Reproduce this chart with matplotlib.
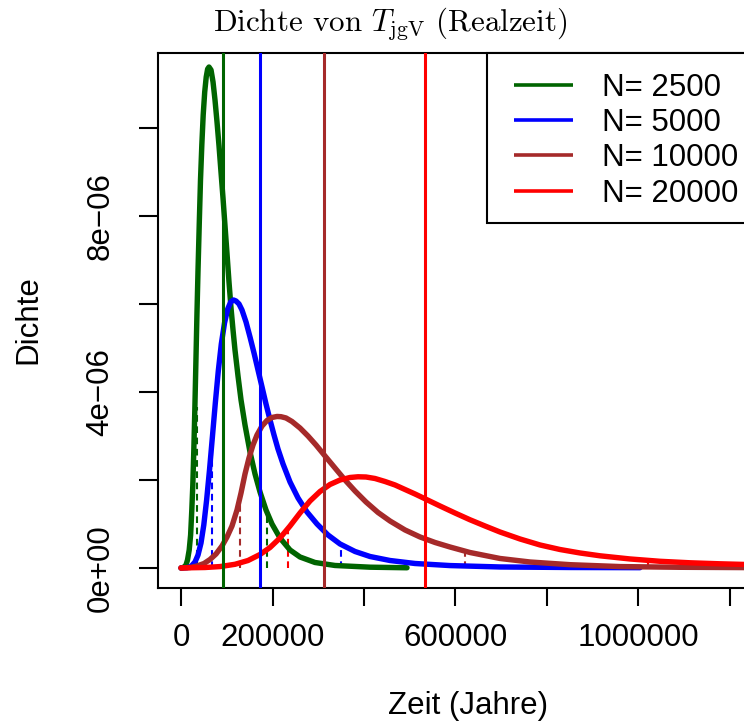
import numpy as np
import matplotlib
matplotlib.use("Agg")
import matplotlib.pyplot as plt
from matplotlib.lines import Line2D
from matplotlib.patches import Rectangle

plt.rcParams['font.family'] = ['Liberation Sans', 'DejaVu Sans']
plt.rcParams['mathtext.fontset'] = 'cm'

# Dichtekurven: Zeit in Jahren, Dichte in Einheiten von 1e-6
t_2500 = [0, 5500, 10900, 14200, 17900, 21000, 23600, 25800, 28000, 30200, 32400,
          34800, 37200, 40000, 42600, 45500, 48500, 51800, 55100, 58200, 61200,
          65600, 70000, 74300, 78700, 83100, 87400, 91800, 96200, 100600, 104900,
          109300, 113700, 118000, 124600, 131200, 139900, 150800, 161800, 172700,
          185800, 198900, 216400, 238300, 260100, 292900, 336600, 413200, 494000]
d_2500 = [0, 0.011, 0.068, 0.182, 0.409, 0.750, 1.318, 1.887, 2.682, 3.591, 4.614,
          5.751, 6.774, 7.865, 8.820, 9.616, 10.297, 10.819, 11.160, 11.342, 11.387,
          11.320, 11.047, 10.638, 10.138, 9.592, 9.001, 8.410, 7.774, 7.137, 6.501,
          5.910, 5.410, 4.955, 4.364, 3.819, 3.250, 2.637, 2.137, 1.727,
          1.318, 1.000, 0.682, 0.409, 0.250, 0.125, 0.057, 0.018, 0.005]

t_5000 = [0, 13100, 21900, 30600, 37200, 43700, 49800, 56000, 62300, 68600, 75000,
          81500, 88100, 95100, 102100, 108600, 114800, 120200, 126800, 133300, 142100,
          150800, 159600, 168300, 177100, 185800, 194600, 203300, 212000, 223000,
          238300, 255800, 275400, 297300, 321300, 347600, 380400, 413200, 456900,
          511500, 588000, 697300, 850400, 1003400]
d_5000 = [0, 0.007, 0.034, 0.136, 0.295, 0.568, 0.977, 1.546, 2.228, 2.978, 3.750,
          4.478, 5.092, 5.569, 5.887, 6.046, 6.092, 6.069, 6.001, 5.864, 5.592,
          5.251, 4.887, 4.501, 4.114, 3.728, 3.364, 3.023, 2.705, 2.364,
          1.955, 1.591, 1.273, 1.000, 0.750, 0.546, 0.375, 0.261, 0.170,
          0.102, 0.055, 0.023, 0.011, 0.007]

t_10000 = [0, 19700, 35000, 50300, 63400, 76500, 89600, 100600, 111500, 122400,
           131200, 139900, 148600, 157400, 166100, 177100, 188000, 198900, 209900,
           218600, 229500, 242600, 260100, 277600, 295100, 314800, 336600, 358500,
           380400, 404400, 430600, 456900, 489700, 522500, 555200, 588000, 631700,
           697300, 762900, 850400, 959700, 1090800, 1230700, 1353100]
d_10000 = [0, 0.011, 0.045, 0.102, 0.193, 0.318, 0.500, 0.705, 0.955, 1.318,
           1.705, 2.137, 2.500, 2.796, 3.023, 3.228, 3.353, 3.421, 3.444,
           3.439, 3.410, 3.330, 3.182, 3.000, 2.796, 2.546, 2.273, 2.000,
           1.750, 1.500, 1.262, 1.068, 0.864, 0.705, 0.580, 0.477, 0.352,
           0.216, 0.136, 0.075, 0.032, 0.016, 0.009, 0.005]

t_20000 = [0, 19700, 52500, 85300, 118000, 146500, 172700, 194600, 216400, 238300,
           260100, 282000, 303900, 325700, 347600, 369400, 386900, 404400, 424100,
           445900, 467800, 489700, 511500, 533400, 566200, 598900, 631700, 664500,
           697300, 741100, 784800, 828500, 872200, 915900, 981500, 1047100, 1112700,
           1178300, 1243800, 1353100]
d_20000 = [0, 0.005, 0.011, 0.032, 0.084, 0.170, 0.307, 0.466, 0.682, 0.955,
           1.250, 1.523, 1.739, 1.898, 2.000, 2.057, 2.073, 2.068, 2.034,
           1.966, 1.887, 1.784, 1.682, 1.573, 1.409, 1.250, 1.096, 0.955,
           0.818, 0.659, 0.523, 0.420, 0.341, 0.277, 0.205, 0.152, 0.118,
           0.095, 0.077, 0.057]

labels = ["N= 2500", "N= 5000", "N= 10000", "N= 20000"]
colors = ["darkgreen", "blue", "brown", "red"]

# senkrechte Linien (Mittelwert) und Quantile mit Dichte an der Stelle
mittel = [91800, 172700, 312600, 533300]
q_unten = [35000, 68400, 129000, 233200]
q_oben = [187300, 349100, 620800, 1021500]
dq_unten = [3.66, 2.95, 1.61, 0.89]
dq_oben = [1.27, 0.55, 0.39, 0.17]

xticks = [0, 200000, 400000, 600000, 800000, 1000000, 1200000]
xticklabels = ["0", "200000", "", "600000", "", "1000000", ""]
yticks = [0, 2e-6, 4e-6, 6e-6, 8e-6, 1e-5]
yticklabels = ["0e+00", "", "4e\u221206", "", "8e\u221206", ""]

fs = 22.5

fig = plt.figure(figsize=(7.44, 7.24), dpi=100)
ax = fig.add_axes([158 / 744, 1 - 588 / 724, 621 / 744, 535 / 724])

kurven = [(t_2500, d_2500), (t_5000, d_5000), (t_10000, d_10000), (t_20000, d_20000)]
for i, (t, d) in enumerate(kurven):
    ax.vlines([q_unten[i], q_oben[i]], 0, np.array([dq_unten[i], dq_oben[i]]) * 1e-6,
              colors=colors[i], linestyles=(0, (3.2, 2.2)), lw=1.5, zorder=1)
for i, (t, d) in enumerate(kurven):
    ax.plot(t, np.array(d) * 1e-6, color=colors[i], lw=3.9, solid_capstyle='round',
            solid_joinstyle='round', zorder=2)
for i in range(4):
    ax.axvline(mittel[i], color=colors[i], lw=2.2, zorder=3)

ax.set_xlim(-50300, 1307200)
ax.set_ylim(-4.55e-7, 1.1706e-5)
ax.set_xticks(xticks)
ax.set_xticklabels(xticklabels, fontsize=fs)
ax.set_yticks(yticks)
ax.set_yticklabels(yticklabels, fontsize=fs, rotation=90, va='center')
ax.tick_params(axis='x', length=13, width=1.5, pad=12)
ax.tick_params(axis='y', length=13.5, width=1.5, pad=17)
for s in ax.spines.values():
    s.set_linewidth(1.5)

# Legendenrahmen wie in R (rechts abgeschnitten)
ax.add_patch(Rectangle((0.5298, 0.6822), 0.6, 0.3178, transform=ax.transAxes,
                       facecolor='white', edgecolor='black', lw=1.5,
                       zorder=4.9, clip_on=False))
handles = [Line2D([], [], color=c, lw=2.6, solid_capstyle='butt') for c in colors]
leg = ax.legend(handles, labels, loc='upper left', bbox_to_anchor=(0.5733, 0.9622),
                borderaxespad=0, frameon=False, handlelength=1.89,
                handletextpad=0.92, labelspacing=0.163, borderpad=0, fontsize=fs)
leg.set_zorder(5)

fig.text(390 / 744, 1 - 32 / 724, r"Dichte von $T_{\mathrm{jgV}}$ (Realzeit)",
         fontfamily='cmr10', fontsize=22.3, ha='center', va='baseline')
fig.text(468 / 744, 1 - 714 / 724, "Zeit (Jahre)", fontsize=fs,
         ha='center', va='baseline')
fig.text(28 / 744, 1 - 320 / 724, "Dichte", fontsize=fs, rotation=90,
         ha='center', va='center')

fig.savefig("out.png", dpi=100)
